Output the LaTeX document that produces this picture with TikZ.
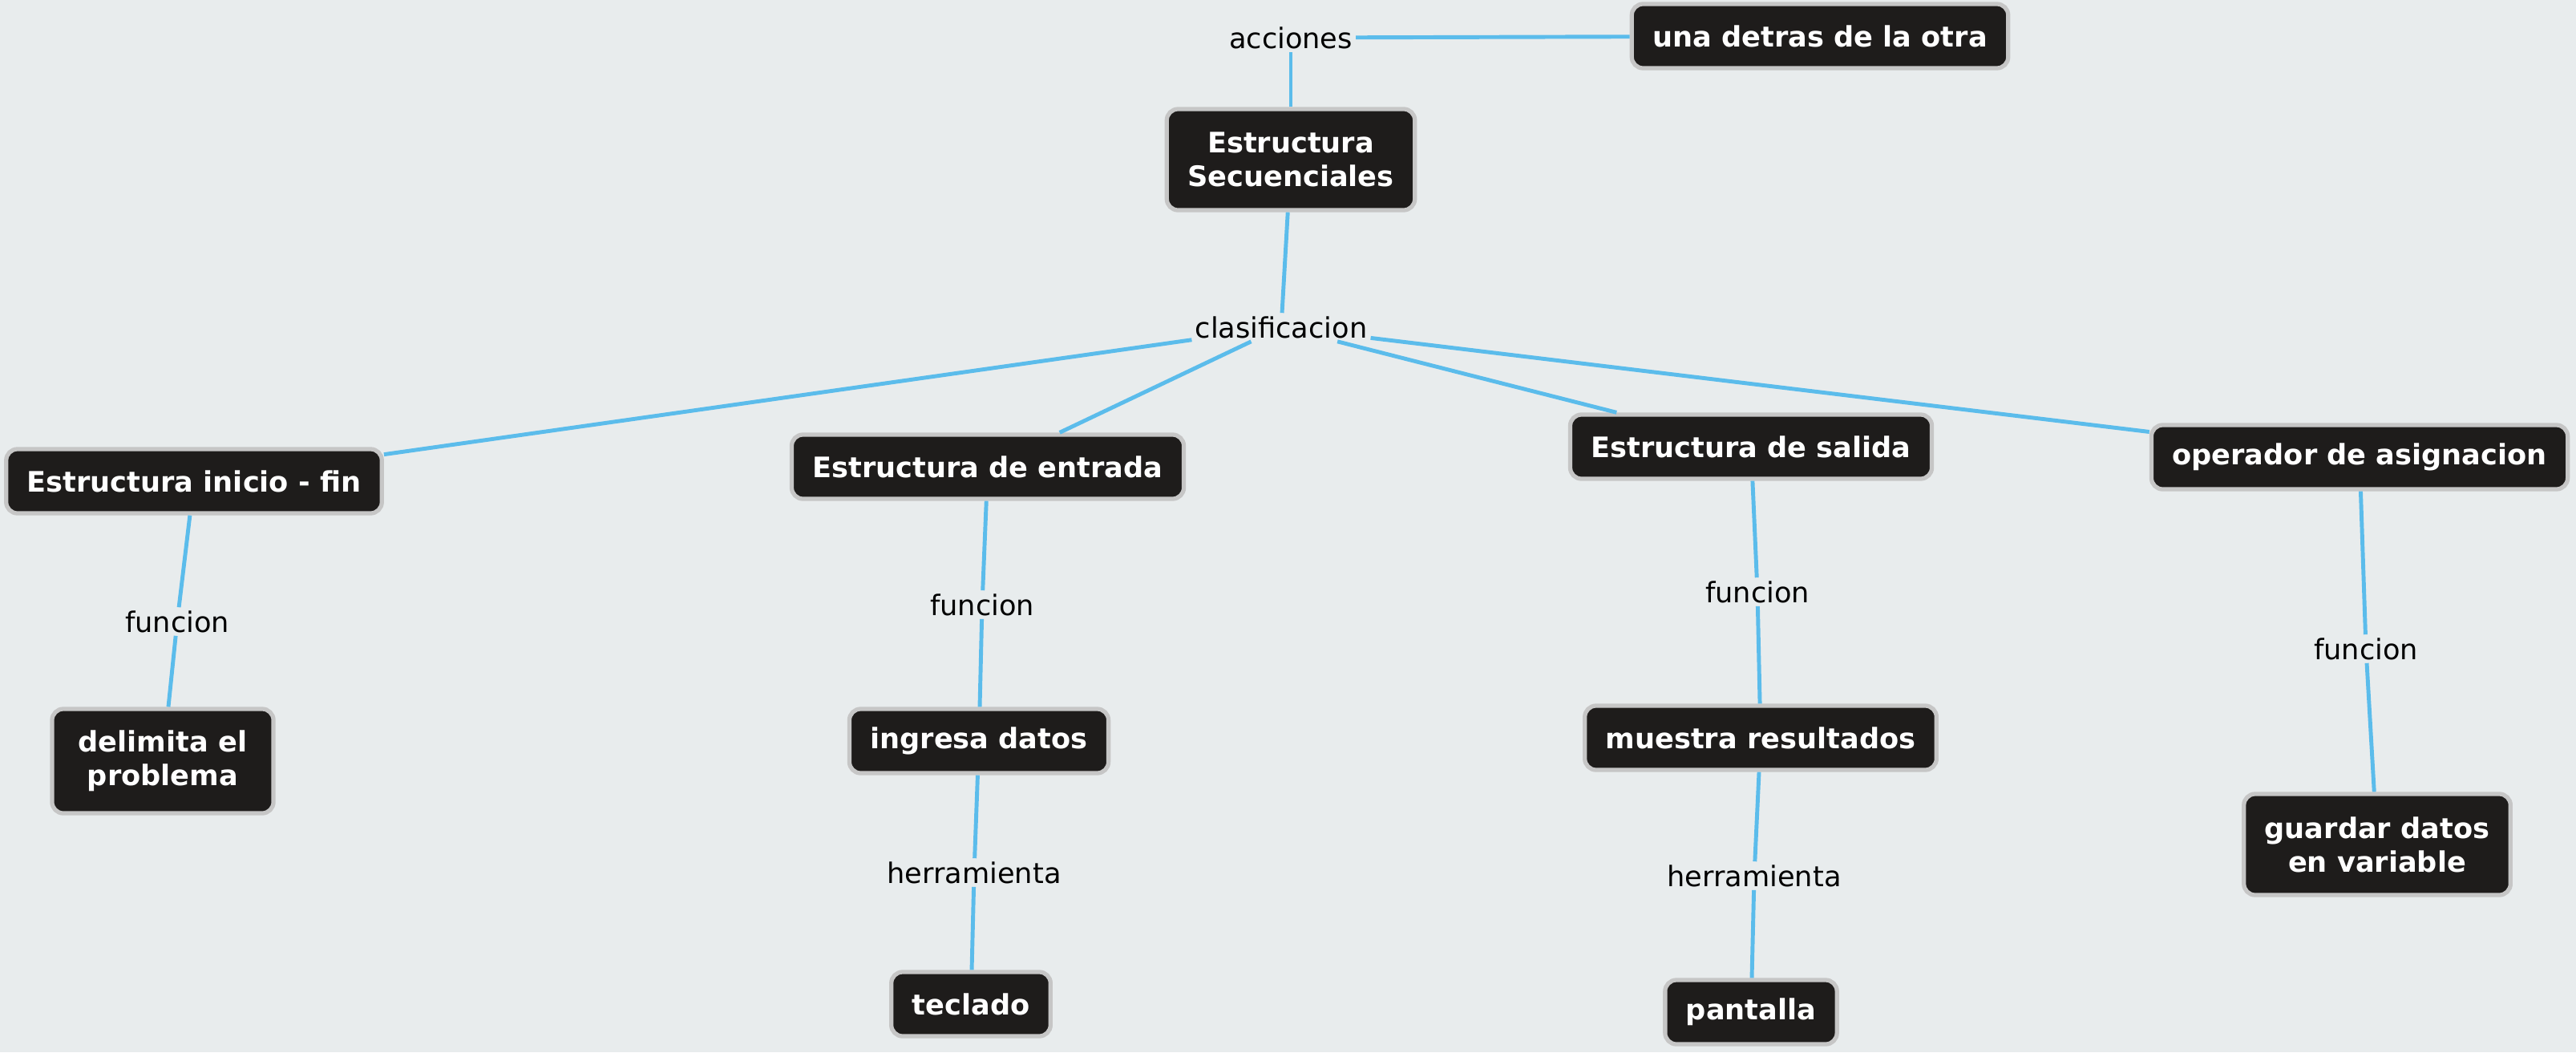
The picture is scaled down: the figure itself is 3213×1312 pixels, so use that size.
\documentclass[tikz,border=0pt]{standalone}
\usepackage{fontspec}
\setmainfont{DejaVu Sans}
\usepackage{tikz}
\usetikzlibrary{shapes,arrows}
\usetikzlibrary{positioning}
\definecolor{fondo}{HTML}{E8ECED}
\definecolor{caja}{HTML}{1E1C1B}
\definecolor{borde}{HTML}{C6C6C6}
\definecolor{enlace}{HTML}{5BBCEB}
\tikzstyle{concept} = [draw=borde, line width=1.5pt, fill=caja, rectangle,
    rounded corners=4pt, text=white, font=\fontsize{10}{12}\selectfont\bfseries,
    align=center, minimum height=0.8cm, inner xsep=0.26cm]
\tikzstyle{tall} = [minimum height=1.26cm]
\tikzstyle{frase} = [font=\fontsize{10}{12}\selectfont, text=black, inner sep=1pt]
\tikzstyle{link} = [draw=enlace, line width=1.4pt]

\begin{document}
\begin{tikzpicture}[x=0.01cm, y=-0.01cm]
    \fill [fondo] (0,0) rectangle (3213,1312);
    \useasboundingbox (0,0) rectangle (3213,1312);

    % We start by placing the concepts
    \node [concept, tall] (sec) at (1610,199) {Estructura\\Secuenciales};
    \node [concept] (otra) at (2270,45) {una detras de la otra};
    \node [concept] (ini) at (242,600) {Estructura inicio - fin};
    \node [concept] (ent) at (1232,582) {Estructura de entrada};
    \node [concept] (sal) at (2184,557) {Estructura de salida};
    \node [concept] (asig) at (2943,570) {operador de asignacion};
    \node [concept, tall, minimum height=1.3cm, minimum width=2.76cm] (delim) at (203,949) {delimita el\\problema};
    \node [concept] (ingr) at (1221,924) {ingresa datos};
    \node [concept] (muest) at (2196,920) {muestra resultados};
    \node [concept, tall] (guard) at (2965,1053) {guardar datos\\en variable};
    \node [concept] (tecl) at (1211,1252) {teclado};
    \node [concept] (pant) at (2184,1262) {pantalla};

    % then the linking phrases
    \node [frase] (acc) at (1610,47) {acciones};
    \node [frase] (clas) at (1598,408) {clasificacion};
    \node [frase] (fini) at (221,775) {funcion};
    \node [frase] (fent) at (1225,754) {funcion};
    \node [frase] (fsal) at (2192,738) {funcion};
    \node [frase] (fasig) at (2951,809) {funcion};
    \node [frase] (hent) at (1215,1088) {herramienta};
    \node [frase] (hsal) at (2188,1092) {herramienta};

    % Once the nodes are placed, connecting them is easy.
    \draw [link] (sec) -- (acc);
    \draw [link] (acc) -- (otra);
    \draw [link] (sec) -- (clas);
    \draw [link] (clas) -- (ini);
    \draw [link] (clas) -- (ent);
    \draw [link] (clas) -- (sal);
    \draw [link] (clas) -- (asig);
    \draw [link] (ini) -- (fini);
    \draw [link] (fini) -- (delim);
    \draw [link] (ent) -- (fent);
    \draw [link] (fent) -- (ingr);
    \draw [link] (ingr) -- (hent);
    \draw [link] (hent) -- (tecl);
    \draw [link] (sal) -- (fsal);
    \draw [link] (fsal) -- (muest);
    \draw [link] (muest) -- (hsal);
    \draw [link] (hsal) -- (pant);
    \draw [link] (asig) -- (fasig);
    \draw [link] (fasig) -- (guard);
\end{tikzpicture}
\end{document}
